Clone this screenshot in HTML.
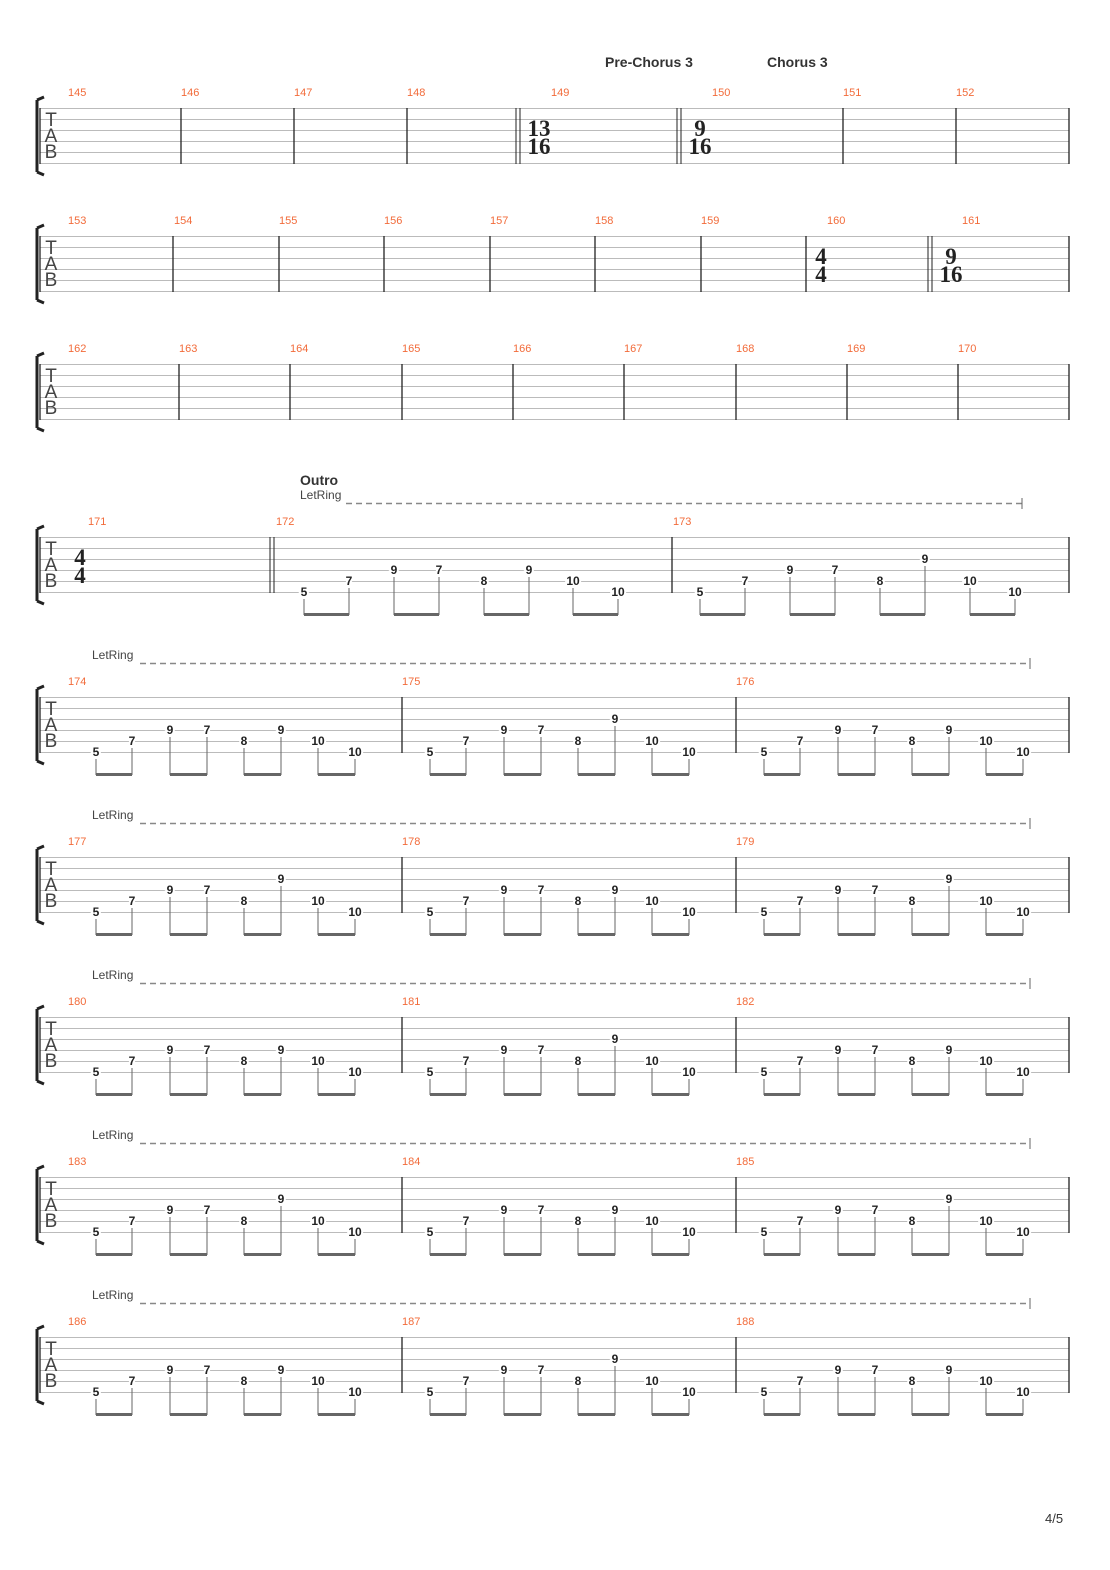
<!DOCTYPE html>
<html><head><meta charset="utf-8"><style>
html,body{margin:0;padding:0;background:#fff}
svg{display:block}
.sl{stroke:#bbb;stroke-width:1}
.bar{stroke:#222;stroke-width:1.3}
.mn{font:11px "Liberation Sans",sans-serif;fill:#f26b3a}
.tab{font:19px "Liberation Sans",sans-serif;fill:#444;text-anchor:middle}
.ts{font:bold 23px "Liberation Serif",serif;fill:#222;text-anchor:middle}
.n text{font:bold 12px "Liberation Sans",sans-serif;fill:#222;text-anchor:middle;stroke:#fff;stroke-width:4;paint-order:stroke}
.st{stroke:#666;stroke-width:1;fill:none}
.bm{stroke:#666;stroke-width:3;fill:none}
.lr{font:12px "Liberation Sans",sans-serif;fill:#444}
.dash{stroke:#888;stroke-width:1.5;stroke-dasharray:6 4}
.sec{font:bold 14px "Liberation Sans",sans-serif;fill:#333}
</style></head><body>
<svg width="1110" height="1570" viewBox="0 0 1110 1570" xmlns="http://www.w3.org/2000/svg">
<defs>
<g id="staff">
<path class="sl" d="M40 0.5H1069M40 11.5H1069M40 22.5H1069M40 33.5H1069M40 44.5H1069M40 55.5H1069"/>
<path class="bar" d="M40 0V56M1069 0V56"/>
<path d="M37 -8 L44 -11 M37 -8 V64 M37 64 L44 67" stroke="#222" stroke-width="3" fill="none"/>
</g>
<g id="sl"><path class="st" d="M28 62V78M64 51V78M102 40V78M139 40V78M176 51V78M213 40V78M250 51V78M287 62V78"/><path class="bm" d="M28 77.5H64M102 77.5H139M176 77.5H213M250 77.5H287"/></g>
<g id="sh"><path class="st" d="M28 62V78M64 51V78M102 40V78M139 40V78M176 51V78M213 29V78M250 51V78M287 62V78"/><path class="bm" d="M28 77.5H64M102 77.5H139M176 77.5H213M250 77.5H287"/></g>
</defs>

<!-- Row 1 -->
<text class="sec" x="605" y="67">Pre-Chorus 3</text>
<text class="sec" x="767" y="67">Chorus 3</text>
<g transform="translate(0,108)">
<use href="#staff"/>
<text class="tab" x="51" y="18">T</text><text class="tab" x="51" y="34">A</text><text class="tab" x="51" y="50">B</text>
<path class="bar" d="M181 0V56M294 0V56M407 0V56M843 0V56M956 0V56"/>
<path d="M516 0V56M520 0V56M677 0V56M681 0V56" stroke="#222" stroke-width="1"/>
<text class="ts" x="539" y="28">13</text><text class="ts" x="539" y="46">16</text>
<text class="ts" x="700" y="28">9</text><text class="ts" x="700" y="46">16</text>
<g class="mn"><text x="68" y="-12">145</text><text x="181" y="-12">146</text><text x="294" y="-12">147</text><text x="407" y="-12">148</text><text x="551" y="-12">149</text><text x="712" y="-12">150</text><text x="843" y="-12">151</text><text x="956" y="-12">152</text></g>
</g>

<!-- Row 2 -->
<g transform="translate(0,236)">
<use href="#staff"/>
<text class="tab" x="51" y="18">T</text><text class="tab" x="51" y="34">A</text><text class="tab" x="51" y="50">B</text>
<path class="bar" d="M173 0V56M279 0V56M384 0V56M490 0V56M595 0V56M701 0V56M806 0V56"/>
<path d="M928 0V56M932 0V56" stroke="#222" stroke-width="1"/>
<text class="ts" x="821" y="28">4</text><text class="ts" x="821" y="46">4</text>
<text class="ts" x="951" y="28">9</text><text class="ts" x="951" y="46">16</text>
<g class="mn"><text x="68" y="-12">153</text><text x="174" y="-12">154</text><text x="279" y="-12">155</text><text x="384" y="-12">156</text><text x="490" y="-12">157</text><text x="595" y="-12">158</text><text x="701" y="-12">159</text><text x="827" y="-12">160</text><text x="962" y="-12">161</text></g>
</g>

<!-- Row 3 -->
<g transform="translate(0,364)">
<use href="#staff"/>
<text class="tab" x="51" y="18">T</text><text class="tab" x="51" y="34">A</text><text class="tab" x="51" y="50">B</text>
<path class="bar" d="M179 0V56M290 0V56M402 0V56M513 0V56M624 0V56M736 0V56M847 0V56M958 0V56"/>
<g class="mn"><text x="68" y="-12">162</text><text x="179" y="-12">163</text><text x="290" y="-12">164</text><text x="402" y="-12">165</text><text x="513" y="-12">166</text><text x="624" y="-12">167</text><text x="736" y="-12">168</text><text x="847" y="-12">169</text><text x="958" y="-12">170</text></g>
</g>

<!-- Row 4 -->
<text class="sec" x="300" y="485">Outro</text>
<text class="lr" x="300" y="499">LetRing</text>
<path class="dash" d="M346 503.5H1022"/><path d="M1022 498V509" stroke="#666"/>
<g transform="translate(0,537)">
<use href="#staff"/>
<text class="tab" x="51" y="18">T</text><text class="tab" x="51" y="34">A</text><text class="tab" x="51" y="50">B</text>
<path d="M270 0V56M274 0V56" stroke="#222" stroke-width="1"/>
<path class="bar" d="M672 0V56"/>
<text class="ts" x="80" y="28">4</text><text class="ts" x="80" y="46">4</text>
<g class="mn"><text x="88" y="-12">171</text><text x="276" y="-12">172</text><text x="673" y="-12">173</text></g>
<g transform="translate(272,0)" class="n"><path class="st" d="M32 62V78M77 51V78M122 40V78M167 40V78M212 51V78M257 40V78M301 51V78M346 62V78"/><path class="bm" d="M32 77.5H77M122 77.5H167M212 77.5H257M301 77.5H346"/>
<text x="32" y="59">5</text><text x="77" y="48">7</text><text x="122" y="37">9</text><text x="167" y="37">7</text><text x="212" y="48">8</text><text x="257" y="37">9</text><text x="301" y="48">10</text><text x="346" y="59">10</text></g>
<g transform="translate(672,0)" class="n"><path class="st" d="M28 62V78M73 51V78M118 40V78M163 40V78M208 51V78M253 29V78M298 51V78M343 62V78"/><path class="bm" d="M28 77.5H73M118 77.5H163M208 77.5H253M298 77.5H343"/>
<text x="28" y="59">5</text><text x="73" y="48">7</text><text x="118" y="37">9</text><text x="163" y="37">7</text><text x="208" y="48">8</text><text x="253" y="26">9</text><text x="298" y="48">10</text><text x="343" y="59">10</text></g>
</g>

<!-- Rows 5-9 -->
<g transform="translate(0,697)">
<text class="lr" x="92" y="-38">LetRing</text><path class="dash" d="M140 -33.5H1030"/><path d="M1030 -39V-28" stroke="#666"/>
<use href="#staff"/>
<text class="tab" x="51" y="18">T</text><text class="tab" x="51" y="34">A</text><text class="tab" x="51" y="50">B</text>
<path class="bar" d="M402 0V56M736 0V56"/>
<g class="mn"><text x="68" y="-12">174</text><text x="402" y="-12">175</text><text x="736" y="-12">176</text></g>
<g transform="translate(68,0)" class="n"><use href="#sl"/><text x="28" y="59">5</text><text x="64" y="48">7</text><text x="102" y="37">9</text><text x="139" y="37">7</text><text x="176" y="48">8</text><text x="213" y="37">9</text><text x="250" y="48">10</text><text x="287" y="59">10</text></g>
<g transform="translate(402,0)" class="n"><use href="#sh"/><text x="28" y="59">5</text><text x="64" y="48">7</text><text x="102" y="37">9</text><text x="139" y="37">7</text><text x="176" y="48">8</text><text x="213" y="26">9</text><text x="250" y="48">10</text><text x="287" y="59">10</text></g>
<g transform="translate(736,0)" class="n"><use href="#sl"/><text x="28" y="59">5</text><text x="64" y="48">7</text><text x="102" y="37">9</text><text x="139" y="37">7</text><text x="176" y="48">8</text><text x="213" y="37">9</text><text x="250" y="48">10</text><text x="287" y="59">10</text></g>
</g>

<g transform="translate(0,857)">
<text class="lr" x="92" y="-38">LetRing</text><path class="dash" d="M140 -33.5H1030"/><path d="M1030 -39V-28" stroke="#666"/>
<use href="#staff"/>
<text class="tab" x="51" y="18">T</text><text class="tab" x="51" y="34">A</text><text class="tab" x="51" y="50">B</text>
<path class="bar" d="M402 0V56M736 0V56"/>
<g class="mn"><text x="68" y="-12">177</text><text x="402" y="-12">178</text><text x="736" y="-12">179</text></g>
<g transform="translate(68,0)" class="n"><use href="#sh"/><text x="28" y="59">5</text><text x="64" y="48">7</text><text x="102" y="37">9</text><text x="139" y="37">7</text><text x="176" y="48">8</text><text x="213" y="26">9</text><text x="250" y="48">10</text><text x="287" y="59">10</text></g>
<g transform="translate(402,0)" class="n"><use href="#sl"/><text x="28" y="59">5</text><text x="64" y="48">7</text><text x="102" y="37">9</text><text x="139" y="37">7</text><text x="176" y="48">8</text><text x="213" y="37">9</text><text x="250" y="48">10</text><text x="287" y="59">10</text></g>
<g transform="translate(736,0)" class="n"><use href="#sh"/><text x="28" y="59">5</text><text x="64" y="48">7</text><text x="102" y="37">9</text><text x="139" y="37">7</text><text x="176" y="48">8</text><text x="213" y="26">9</text><text x="250" y="48">10</text><text x="287" y="59">10</text></g>
</g>

<g transform="translate(0,1017)">
<text class="lr" x="92" y="-38">LetRing</text><path class="dash" d="M140 -33.5H1030"/><path d="M1030 -39V-28" stroke="#666"/>
<use href="#staff"/>
<text class="tab" x="51" y="18">T</text><text class="tab" x="51" y="34">A</text><text class="tab" x="51" y="50">B</text>
<path class="bar" d="M402 0V56M736 0V56"/>
<g class="mn"><text x="68" y="-12">180</text><text x="402" y="-12">181</text><text x="736" y="-12">182</text></g>
<g transform="translate(68,0)" class="n"><use href="#sl"/><text x="28" y="59">5</text><text x="64" y="48">7</text><text x="102" y="37">9</text><text x="139" y="37">7</text><text x="176" y="48">8</text><text x="213" y="37">9</text><text x="250" y="48">10</text><text x="287" y="59">10</text></g>
<g transform="translate(402,0)" class="n"><use href="#sh"/><text x="28" y="59">5</text><text x="64" y="48">7</text><text x="102" y="37">9</text><text x="139" y="37">7</text><text x="176" y="48">8</text><text x="213" y="26">9</text><text x="250" y="48">10</text><text x="287" y="59">10</text></g>
<g transform="translate(736,0)" class="n"><use href="#sl"/><text x="28" y="59">5</text><text x="64" y="48">7</text><text x="102" y="37">9</text><text x="139" y="37">7</text><text x="176" y="48">8</text><text x="213" y="37">9</text><text x="250" y="48">10</text><text x="287" y="59">10</text></g>
</g>

<g transform="translate(0,1177)">
<text class="lr" x="92" y="-38">LetRing</text><path class="dash" d="M140 -33.5H1030"/><path d="M1030 -39V-28" stroke="#666"/>
<use href="#staff"/>
<text class="tab" x="51" y="18">T</text><text class="tab" x="51" y="34">A</text><text class="tab" x="51" y="50">B</text>
<path class="bar" d="M402 0V56M736 0V56"/>
<g class="mn"><text x="68" y="-12">183</text><text x="402" y="-12">184</text><text x="736" y="-12">185</text></g>
<g transform="translate(68,0)" class="n"><use href="#sh"/><text x="28" y="59">5</text><text x="64" y="48">7</text><text x="102" y="37">9</text><text x="139" y="37">7</text><text x="176" y="48">8</text><text x="213" y="26">9</text><text x="250" y="48">10</text><text x="287" y="59">10</text></g>
<g transform="translate(402,0)" class="n"><use href="#sl"/><text x="28" y="59">5</text><text x="64" y="48">7</text><text x="102" y="37">9</text><text x="139" y="37">7</text><text x="176" y="48">8</text><text x="213" y="37">9</text><text x="250" y="48">10</text><text x="287" y="59">10</text></g>
<g transform="translate(736,0)" class="n"><use href="#sh"/><text x="28" y="59">5</text><text x="64" y="48">7</text><text x="102" y="37">9</text><text x="139" y="37">7</text><text x="176" y="48">8</text><text x="213" y="26">9</text><text x="250" y="48">10</text><text x="287" y="59">10</text></g>
</g>

<g transform="translate(0,1337)">
<text class="lr" x="92" y="-38">LetRing</text><path class="dash" d="M140 -33.5H1030"/><path d="M1030 -39V-28" stroke="#666"/>
<use href="#staff"/>
<text class="tab" x="51" y="18">T</text><text class="tab" x="51" y="34">A</text><text class="tab" x="51" y="50">B</text>
<path class="bar" d="M402 0V56M736 0V56"/>
<g class="mn"><text x="68" y="-12">186</text><text x="402" y="-12">187</text><text x="736" y="-12">188</text></g>
<g transform="translate(68,0)" class="n"><use href="#sl"/><text x="28" y="59">5</text><text x="64" y="48">7</text><text x="102" y="37">9</text><text x="139" y="37">7</text><text x="176" y="48">8</text><text x="213" y="37">9</text><text x="250" y="48">10</text><text x="287" y="59">10</text></g>
<g transform="translate(402,0)" class="n"><use href="#sh"/><text x="28" y="59">5</text><text x="64" y="48">7</text><text x="102" y="37">9</text><text x="139" y="37">7</text><text x="176" y="48">8</text><text x="213" y="26">9</text><text x="250" y="48">10</text><text x="287" y="59">10</text></g>
<g transform="translate(736,0)" class="n"><use href="#sl"/><text x="28" y="59">5</text><text x="64" y="48">7</text><text x="102" y="37">9</text><text x="139" y="37">7</text><text x="176" y="48">8</text><text x="213" y="37">9</text><text x="250" y="48">10</text><text x="287" y="59">10</text></g>
</g>

<text x="1045" y="1523" style="font:13px 'Liberation Sans',sans-serif;fill:#333">4/5</text>
</svg>
</body></html>
